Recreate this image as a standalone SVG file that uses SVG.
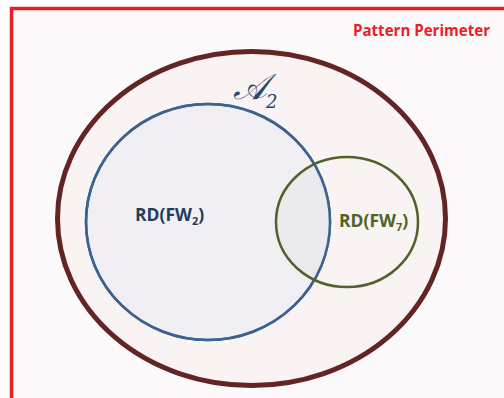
<svg xmlns="http://www.w3.org/2000/svg" width="504" height="398" viewBox="0 0 504 398">
<style>
.lbl{font-family:"Open Sans","Liberation Sans",sans-serif;font-weight:bold;font-size:17.5px}
</style>
<defs>
<clipPath id="c2"><ellipse cx="208" cy="222" rx="122" ry="118"/></clipPath>
</defs>
<rect x="0" y="0" width="504" height="398" fill="#ffffff"/>
<g id="perimeter">
<rect x="11.5" y="8.5" width="510" height="410" fill="#fcf9fa" stroke="#ee1c25" stroke-width="3.5"/>
<text x="353" y="36" font-family="Open Sans, Liberation Sans, sans-serif" font-weight="bold" font-size="16" fill="#ee1c25" textLength="137" lengthAdjust="spacingAndGlyphs">Pattern Perimeter</text>
</g>
<g id="A2">
<ellipse cx="251.5" cy="218.5" rx="194" ry="167" fill="#f9f3f3" stroke="#632523" stroke-width="5"/>
<text x="233" y="99" font-family="DejaVu Serif, serif" font-style="italic" font-size="36" fill="#2a4a6a">𝒜</text>
<text x="266" y="108" font-family="DejaVu Serif, serif" font-style="italic" font-size="18" fill="#2a4a6a">2</text>
</g>
<g id="FW2">
<ellipse cx="208" cy="222" rx="122" ry="118" fill="#f1eff4" stroke="#3a6391" stroke-width="2.5"/>
</g>
<g id="FW7">
<ellipse cx="347" cy="222" rx="71" ry="65" fill="#ebebee" clip-path="url(#c2)"/>
<ellipse cx="208" cy="222" rx="122" ry="118" fill="none" stroke="#3a6391" stroke-width="2.5"/>
<ellipse cx="347" cy="222" rx="71" ry="65" fill="none" stroke="#4f6228" stroke-width="2.5"/>
<text class="lbl" x="339" y="227" fill="#4f6228">RD(FW<tspan font-size="11" dy="4">7</tspan><tspan dy="-4">)</tspan></text>
</g>
<g id="labels">
<text class="lbl" x="135" y="221" fill="#1f3e5e">RD(FW<tspan font-size="11" dy="4">2</tspan><tspan dy="-4">)</tspan></text>
</g>
<g id="connectors"/>
</svg>
